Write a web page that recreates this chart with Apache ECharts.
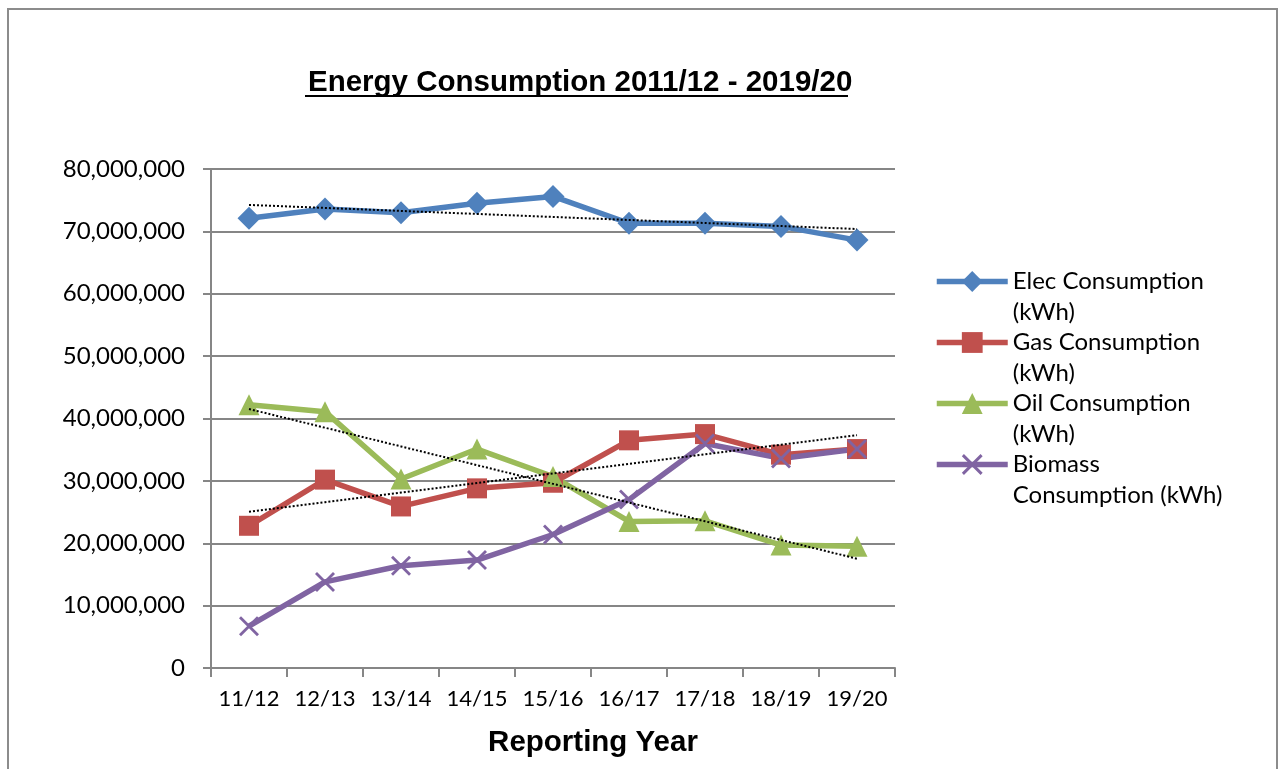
<!DOCTYPE html>
<html>
<head>
<meta charset="utf-8">
<script src="https://cdn.jsdelivr.net/npm/echarts@6/dist/echarts.min.js"></script>
<style>
  html, body { margin: 0; padding: 0; background: #fff; }
  #main { width: 1281px; height: 769px; }
</style>
</head>
<body>
<div id="main"></div>
<script>
const years = ['11/12', '12/13', '13/14', '14/15', '15/16', '16/17', '17/18', '18/19', '19/20'];
const elec = [72100000, 73600000, 73000000, 74500000, 75600000, 71300000, 71300000, 70800000, 68600000];
const gas = [22800000, 30200000, 25900000, 28800000, 29700000, 36500000, 37500000, 34200000, 35100000];
const oil = [42200000, 41100000, 30300000, 35100000, 30700000, 23500000, 23600000, 19700000, 19500000];
const biomass = [6700000, 13800000, 16400000, 17300000, 21400000, 27000000, 36000000, 33600000, 35100000];
// wrapped like excel does it; the leading blank line keeps the icon on the first line
const legendText = {
  'Elec Consumption (kWh)': ' \nElec Consumption\n(kWh)',
  'Gas Consumption (kWh)': ' \nGas Consumption\n(kWh)',
  'Oil Consumption (kWh)': ' \nOil Consumption\n(kWh)',
  'Biomass Consumption (kWh)': ' \nBiomass\nConsumption (kWh)'
};

// least squares line, like excel's linear trendline
function trend(vals) {
  const n = vals.length;
  let sx = 0, sy = 0, sxy = 0, sxx = 0;
  vals.forEach((v, i) => { sx += i; sy += v; sxy += i * v; sxx += i * i; });
  const b = (n * sxy - sx * sy) / (n * sxx - sx * sx);
  const a = (sy - b * sx) / n;
  return vals.map((v, i) => a + b * i);
}

const crossPath = 'path://M0,1L1,0L10,9L9,10ZM9,0L10,1L1,10L0,9Z';

function mainLine(name, data, color, symbol, size) {
  return {
    name: name,
    type: 'line',
    data: data,
    symbol: symbol,
    symbolSize: size,
    lineStyle: { color: color, width: 5.5 },
    itemStyle: { color: color },
    z: 3
  };
}

function trendLine(data) {
  return {
    name: 'trend',
    type: 'line',
    data: trend(data),
    symbol: 'none',
    silent: true,
    lineStyle: { color: '#000', width: 2, type: [2, 2] },
    z: 4
  };
}

const chart = echarts.init(document.getElementById('main'));
chart.setOption({
  animation: false,
  backgroundColor: '#fff',
  title: {
    text: 'Energy Consumption 2011/12 - 2019/20',
    left: 303,
    top: 63,
    textStyle: { fontFamily: 'Liberation Sans', fontWeight: 'bold', fontSize: 29.5, color: '#000' }
  },
  graphic: [
    { type: 'rect', shape: { x: 8, y: 9, width: 1269, height: 780 }, style: { fill: 'none', stroke: '#8c8c8c', lineWidth: 2 }, silent: true },
    { type: 'line', shape: { x1: 305, y1: 96, x2: 848, y2: 96 }, style: { stroke: '#000', lineWidth: 2 }, silent: true }
  ],
  legend: {
    orient: 'vertical',
    left: 934,
    top: 235,
    padding: 0,
    itemWidth: 71,
    itemHeight: 26,
    itemGap: -32,
    data: Object.keys(legendText),
    formatter: name => legendText[name],
    lineStyle: { width: 5.5 },
    textStyle: { fontFamily: 'Lato', fontSize: 24, color: '#000', lineHeight: 31 }
  },
  grid: { left: 211, right: 386, top: 169, bottom: 101 },
  xAxis: {
    type: 'category',
    data: years,
    boundaryGap: true,
    name: 'Reporting Year',
    nameLocation: 'middle',
    nameGap: 60,
    nameTextStyle: { fontFamily: 'Liberation Sans', fontWeight: 'bold', fontSize: 29.5, color: '#000', padding: [0, 0, 0, 80] },
    axisLine: { lineStyle: { color: '#868686', width: 2 } },
    axisTick: { show: true, interval: 0, alignWithLabel: false, length: 9, lineStyle: { color: '#868686', width: 2 } },
    axisLabel: { fontFamily: 'Lato', fontSize: 22, color: '#000', margin: 20, interval: 0 }
  },
  yAxis: {
    type: 'value',
    min: 0,
    max: 80000000,
    interval: 10000000,
    axisLine: { show: true, lineStyle: { color: '#868686', width: 2 } },
    axisTick: { show: true, length: 8, lineStyle: { color: '#868686', width: 2 } },
    splitLine: { lineStyle: { color: '#868686', width: 2 } },
    axisLabel: {
      fontFamily: 'Lato', fontSize: 24, color: '#000', margin: 26,
      formatter: v => v.toLocaleString('en-US')
    }
  },
  series: [
    mainLine('Elec Consumption (kWh)', elec, '#4f81bd', 'diamond', 23),
    mainLine('Gas Consumption (kWh)', gas, '#c0504d', 'rect', 20),
    mainLine('Oil Consumption (kWh)', oil, '#9bbb59', 'triangle', 21),
    mainLine('Biomass Consumption (kWh)', biomass, '#8064a2', crossPath, 20),
    trendLine(elec),
    trendLine(gas),
    trendLine(oil)
  ]
});
</script>
</body>
</html>
